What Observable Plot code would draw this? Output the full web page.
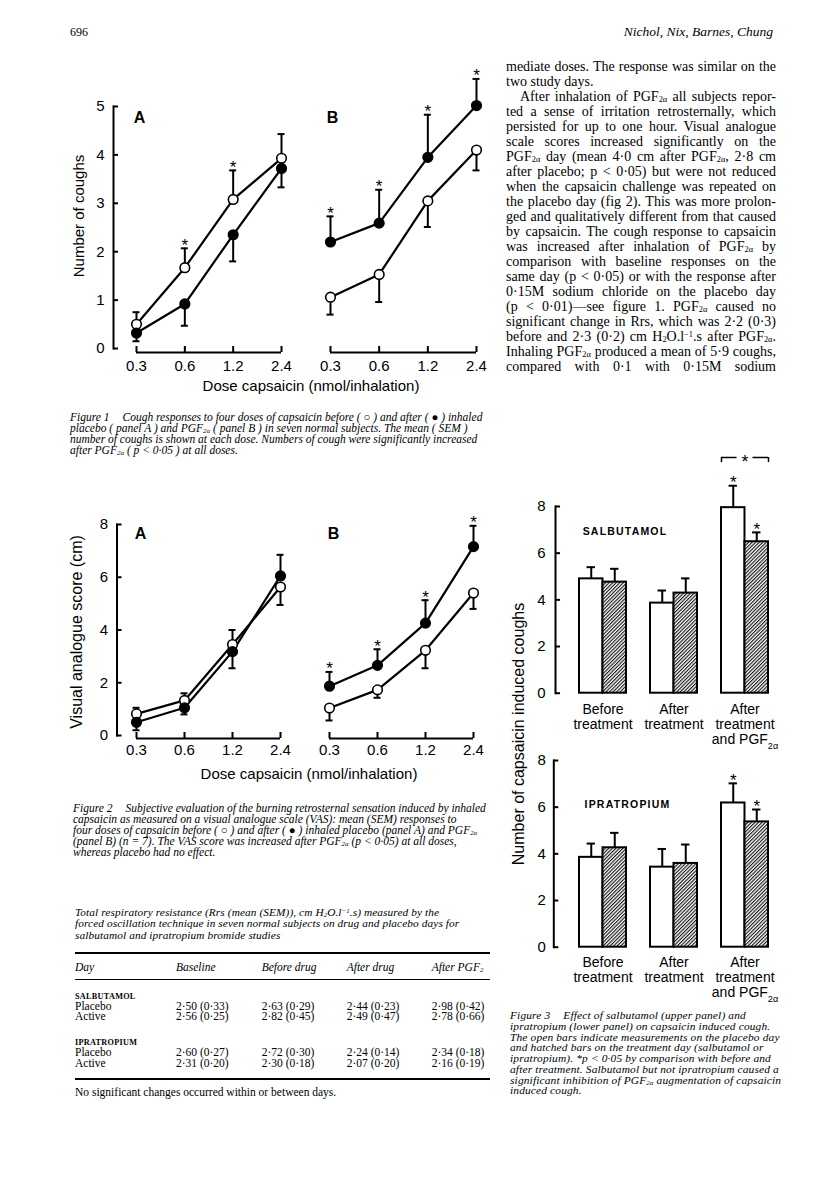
<!DOCTYPE html>
<html>
<head>
<meta charset="utf-8">
<script src="https://cdn.jsdelivr.net/npm/d3@7"></script>
<script src="https://cdn.jsdelivr.net/npm/@observablehq/plot@0.6"></script>
<style>
  html, body { margin: 0; padding: 0; background: #fff; }
  #page { position: relative; width: 816px; height: 1179px; overflow: hidden; background: #fff; color: #000; }
  .serif { font-family: "Liberation Serif", "Times New Roman", serif; }
  .sans { font-family: "Liberation Sans", Arial, sans-serif; }
  .ln { position: absolute; white-space: nowrap; }
  sub { font-size: 60%; vertical-align: -0.15em; line-height: 0; }
  sup { font-size: 60%; vertical-align: 0.45em; line-height: 0; }
  .fl { margin-right: 13px; }
  .rule { position: absolute; background: #000; }
  .sc { font-size: 8.2px; font-weight: bold; letter-spacing: 0.3px; }
</style>
</head>
<body>
<div id="page"></div>
<script>
// ================= DATA =================
const doses = [0.3, 0.6, 1.2, 2.4];

// Figure 1: number of coughs (open = before, filled = after)
const fig1Ticks = [0, 1, 2, 3, 4, 5];
const fig1A_open = [0.50, 1.67, 3.08, 3.93];
const fig1A_openErr = [0.75, 2.07, 3.68, 4.43];
const fig1A_filled = [0.32, 0.92, 2.35, 3.72];
const fig1A_filledErr = [0.15, 0.47, 1.80, 3.33];
const fig1A_openStars = [0.6, 1.2];
const fig1B_open = [1.06, 1.53, 3.05, 4.10];
const fig1B_openErr = [0.70, 0.96, 2.51, 3.68];
const fig1B_filled = [2.20, 2.59, 3.95, 5.02];
const fig1B_filledErr = [2.73, 3.28, 4.83, 5.57];
const fig1B_filledStars = [0.3, 0.6, 1.2, 2.4];

// Figure 2: visual analogue score (cm)
const fig2Ticks = [0, 2, 4, 6, 8];
const fig2A_open = [0.82, 1.33, 3.45, 5.63];
const fig2A_openErr = [1.05, 1.60, 4.00, 4.95];
const fig2A_filled = [0.50, 1.05, 3.18, 6.05];
const fig2A_filledErr = [0.20, 0.80, 2.55, 6.85];
const fig2B_open = [1.04, 1.73, 3.23, 5.40];
const fig2B_openErr = [0.57, 1.43, 2.55, 4.80];
const fig2B_filled = [1.87, 2.66, 4.26, 7.16];
const fig2B_filledErr = [2.41, 3.27, 5.13, 7.95];
const fig2B_filledStars = [0.3, 0.6, 1.2, 2.4];

// Figure 3: capsaicin induced coughs (open = placebo day, hatched = treatment day)
const fig3Groups = ["Before\ntreatment", "After\ntreatment", "After\ntreatment\nand PGF2α"];
const fig3Ticks = [0, 2, 4, 6, 8];
const salb_placebo = [4.90, 3.86, 7.95];
const salb_placeboErr = [5.40, 4.40, 8.89];
const salb_active = [4.76, 4.29, 6.49];
const salb_activeErr = [5.33, 4.92, 6.89];
const ipra_placebo = [3.85, 3.43, 6.18];
const ipra_placeboErr = [4.44, 4.21, 7.02];
const ipra_active = [4.26, 3.59, 5.37];
const ipra_activeErr = [4.90, 4.40, 5.90];
const fig3StarGroups = [fig3Groups[2]];
const salbBracket = {group: fig3Groups[2], y: 10.1, yEnd: 9.88};

// Table
const tableCols = ["Day", "Baseline", "Before drug", "After drug", "After PGF<sub>2</sub>"];
const tableSections = ["SALBUTAMOL", "IPRATROPIUM"];
const tableDays = ["Placebo", "Active"];
const salbRows = [["2·50 (0·33)", "2·63 (0·29)", "2·44 (0·23)", "2·98 (0·42)"],
                  ["2·56 (0·25)", "2·82 (0·45)", "2·49 (0·47)", "2·78 (0·66)"]];
const ipraRows = [["2·60 (0·27)", "2·72 (0·30)", "2·24 (0·14)", "2·34 (0·18)"],
                  ["2·31 (0·20)", "2·30 (0·18)", "2·07 (0·20)", "2·16 (0·19)"]];

// ================= HELPERS =================
const page = document.getElementById("page");
const SVGNS = "http://www.w3.org/2000/svg";
const plotStyle = {fontFamily: "'Liberation Sans', Arial, sans-serif", fontSize: "15px", background: "transparent", overflow: "visible", color: "black"};

function place(el, left, top) {
  el.style.position = "absolute";
  el.style.left = left + "px";
  el.style.top = top + "px";
  page.appendChild(el);
  return el;
}

function textLine(html, left, cy, o = {}) {
  const size = o.size || 14, lh = o.lh || 15;
  const d = document.createElement("div");
  d.className = "ln " + (o.sans ? "sans" : "serif");
  d.innerHTML = html;
  d.style.left = left + "px";
  d.style.top = (cy - lh / 2) + "px";
  d.style.fontSize = size + "px";
  d.style.lineHeight = lh + "px";
  if (o.italic) d.style.fontStyle = "italic";
  if (o.bold) d.style.fontWeight = "bold";
  if (o.ls) d.style.letterSpacing = o.ls + "px";
  page.appendChild(d);
  if (o.justify) {
    const w = d.getBoundingClientRect().width;
    const n = (d.textContent.match(/ /g) || []).length;
    if (n) d.style.wordSpacing = ((o.justify - w) / n) + "px";
  }
  return d;
}

function rotLabel(text, cx, cy, size) {
  const d = document.createElement("div");
  d.className = "ln sans";
  d.textContent = text;
  d.style.fontSize = size + "px";
  d.style.left = cx + "px";
  d.style.top = cy + "px";
  d.style.transform = "translate(-50%, -50%) rotate(-90deg)";
  page.appendChild(d);
}

function centerLabel(text, cx, cy, size) {
  const d = document.createElement("div");
  d.className = "ln sans";
  d.textContent = text;
  d.style.fontSize = size + "px";
  d.style.left = cx + "px";
  d.style.top = cy + "px";
  d.style.transform = "translate(-50%, -50%)";
  page.appendChild(d);
}

function fixSvgText(svg) {
  svg.querySelectorAll("tspan, text").forEach(t => {
    if (t.childElementCount === 0 && t.textContent.includes("PGF2α")) {
      t.textContent = t.textContent.replace("PGF2α", "PGF");
      const s = document.createElementNS(SVGNS, "tspan");
      s.setAttribute("baseline-shift", "sub");
      s.setAttribute("font-size", "65%");
      s.textContent = "2α";
      t.appendChild(s);
    }
    if (t.textContent === "SALBUTAMOL" || t.textContent === "IPRATROPIUM") {
      t.style.letterSpacing = "1.2px";
    }
  });
}

// ---------- line panels (figures 1 & 2) ----------
function linePanel(c) {
  const rows = [];
  doses.forEach((d, i) => {
    rows.push({dose: d, series: "before", value: c.open[i], err: c.openErr[i]});
    rows.push({dose: d, series: "after", value: c.filled[i], err: c.filledErr[i]});
  });
  const starsOpen = c.starsOpen || [], starsFilled = c.starsFilled || [];
  const stars = rows.filter(r => (r.series === "before" && starsOpen.includes(r.dose)) ||
                                 (r.series === "after" && starsFilled.includes(r.dose)));
  const mRight = 8;
  const mTop = c.yTop - c.top;
  const mBottom = c.height - (c.y0 - c.top);
  const frameW = c.width - c.marginLeft - mRight;
  const frameH = (c.y0 - c.top) - mTop;
  const marks = [
    Plot.ruleY([0], {x1: doses[0], x2: doses[doses.length - 1], dy: c.axisGap, stroke: "black", strokeWidth: 2}),
    Plot.tickX(doses, {x: d => d, insetTop: frameH - 6, dy: c.axisGap, stroke: "black", strokeWidth: 2}),
    Plot.axisX({ticks: doses, tickSize: 0, tickPadding: c.labelPad, tickFormat: d => String(d), fontSize: 15, label: null}),
    Plot.line(rows, {x: "dose", y: "value", z: "series", stroke: "black", strokeWidth: 2.2}),
    Plot.ruleX(rows, {x: "dose", y1: "value", y2: "err", stroke: "black", strokeWidth: 2}),
    Plot.ruleY(rows, {y: "err", x1: "dose", x2: "dose", insetLeft: -3.5, insetRight: -3.5, stroke: "black", strokeWidth: 2}),
    Plot.dot(rows, {x: "dose", y: "value", r: 4.8, fill: d => d.series === "after" ? "black" : "white", stroke: "black", strokeWidth: 1.6}),
    Plot.text(stars, {x: "dose", y: "err", text: () => "*", fontSize: 17, dy: -3}),
    Plot.text([c.letter], {frameAnchor: "top-left", textAnchor: "middle", lineAnchor: "middle", dx: c.letterDx, dy: c.letterDy, fontSize: 16, fontWeight: "bold"})
  ];
  if (c.showY) {
    marks.push(
      Plot.frame({anchor: "left", stroke: "black", strokeWidth: 2}),
      Plot.tickY(c.ticks, {y: d => d, insetRight: frameW - 5, stroke: "black", strokeWidth: 2}),
      Plot.axisY({ticks: c.ticks, tickSize: 0, tickPadding: 9, tickFormat: d => String(d), fontSize: 15, label: null})
    );
  }
  const svg = Plot.plot({
    width: c.width, height: c.height,
    marginLeft: c.marginLeft, marginRight: mRight, marginTop: mTop, marginBottom: mBottom,
    x: {type: "log", domain: [doses[0], doses[doses.length - 1]], range: [c.x0 - c.left, c.x1 - c.left]},
    y: c.showY ? {domain: [0, c.yMax], range: [c.y0 - c.top, c.yTop - c.top]}
               : {domain: [0, c.yMax], range: [c.y0 - c.top, c.yTop - c.top], axis: null},
    style: plotStyle,
    marks
  });
  place(svg, c.left, c.top);
}

// ---------- bar panels (figure 3) ----------
function barPanel(c) {
  const pIn = 0.345;
  const b = d3.scaleBand().domain(fig3Groups).range([c.x0, c.x1]).paddingInner(pIn).paddingOuter(0).bandwidth();
  const openRows = fig3Groups.map((g, i) => ({group: g, value: c.placebo[i], err: c.placeboErr[i]}));
  const hatchRows = fig3Groups.map((g, i) => ({group: g, value: c.active[i], err: c.activeErr[i]}));
  const mTop = c.yTop - c.top;
  const mBottom = c.height - (c.y0 - c.top);
  const mRight = 20;
  const frameW = c.width - c.marginLeft - mRight;
  const pid = c.pid;
  const capW = 4.2;
  const marks = [
    () => {
      const defs = document.createElementNS(SVGNS, "defs");
      defs.innerHTML = `<pattern id="${pid}" patternUnits="userSpaceOnUse" width="2.5" height="2.5" patternTransform="rotate(45)">
        <rect width="2.5" height="2.5" fill="white"></rect>
        <line x1="0.6" y1="0" x2="0.6" y2="2.5" stroke="black" stroke-width="1.05"></line></pattern>`;
      return defs;
    },
    Plot.barY(openRows, {x: "group", y: "value", fill: "white", stroke: "black", strokeWidth: 2, insetRight: b / 2}),
    Plot.barY(hatchRows, {x: "group", y: "value", fill: `url(#${pid})`, stroke: "black", strokeWidth: 2, insetLeft: b / 2}),
    Plot.ruleX(openRows, {x: "group", y1: "value", y2: "err", dx: -b / 4, stroke: "black", strokeWidth: 2}),
    Plot.ruleX(hatchRows, {x: "group", y1: "value", y2: "err", dx: b / 4, stroke: "black", strokeWidth: 2}),
    Plot.tickY(openRows, {x: "group", y: "err", insetLeft: b / 4 - capW, insetRight: 3 * b / 4 - capW, stroke: "black", strokeWidth: 2}),
    Plot.tickY(hatchRows, {x: "group", y: "err", insetLeft: 3 * b / 4 - capW, insetRight: b / 4 - capW, stroke: "black", strokeWidth: 2}),
    Plot.text(openRows.filter(r => fig3StarGroups.includes(r.group)), {x: "group", y: "err", dx: -b / 4, text: () => "*", fontSize: 17, dy: -3}),
    Plot.text(hatchRows.filter(r => fig3StarGroups.includes(r.group)), {x: "group", y: "err", dx: b / 4, text: () => "*", fontSize: 17, dy: -3}),
    Plot.frame({anchor: "left", stroke: "black", strokeWidth: 2}),
    Plot.tickY(fig3Ticks, {y: d => d, insetRight: frameW - 5, stroke: "black", strokeWidth: 2}),
    Plot.axisY({ticks: fig3Ticks, tickSize: 0, tickPadding: c.yPad, tickFormat: d => String(d), fontSize: 15, label: null}),
    Plot.axisX({tickSize: 0, tickPadding: c.labelPad, fontSize: 14, lineHeight: 1.07, tickFormat: d => d, label: null}),
    Plot.text([c.name], {frameAnchor: "top-left", textAnchor: "middle", lineAnchor: "middle", dx: c.nameDx, dy: c.nameDy, fontSize: 10.5, fontWeight: "bold"})
  ];
  if (c.bracket) {
    const br = [c.bracket];
    marks.push(
      Plot.tickY(br, {x: "group", y: "y", insetRight: b / 2 + 8, stroke: "black", strokeWidth: 1.5}),
      Plot.tickY(br, {x: "group", y: "y", insetLeft: b / 2 + 8, stroke: "black", strokeWidth: 1.5}),
      Plot.ruleX(br, {x: "group", y1: "y", y2: "yEnd", dx: -b / 2, stroke: "black", strokeWidth: 1.5}),
      Plot.ruleX(br, {x: "group", y1: "y", y2: "yEnd", dx: b / 2, stroke: "black", strokeWidth: 1.5}),
      Plot.text(br, {x: "group", y: "y", text: () => "*", fontSize: 18, dy: 4.5})
    );
  }
  const svg = Plot.plot({
    width: c.width, height: c.height,
    marginLeft: c.marginLeft, marginRight: mRight, marginTop: mTop, marginBottom: mBottom,
    x: {type: "band", domain: fig3Groups, range: [c.x0 - c.left, c.x1 - c.left], paddingInner: pIn, paddingOuter: 0},
    y: {domain: [0, 8], range: [c.y0 - c.top, c.yTop - c.top]},
    style: plotStyle,
    marks
  });
  fixSvgText(svg);
  place(svg, c.left, c.top);
}

// ================= PAGE HEADER & BODY TEXT =================
textLine("696", 70, 32, {size: 12, lh: 14});
const hdr = document.createElement("div");
hdr.className = "ln serif";
hdr.style.cssText = "right:43px;top:24px;font-size:13.5px;line-height:16px;font-style:italic;";
hdr.textContent = "Nichol, Nix, Barnes, Chung";
page.appendChild(hdr);

const bodyLines = [
  ["mediate doses. The response was similar on the", true, 0],
  ["two study days.", false, 0],
  ["After inhalation of PGF<sub>2α</sub> all subjects repor-", true, 14],
  ["ted a sense of irritation retrosternally, which", true, 0],
  ["persisted for up to one hour. Visual analogue", true, 0],
  ["scale scores increased significantly on the", true, 0],
  ["PGF<sub>2α</sub> day (mean 4·0 cm after PGF<sub>2α</sub>, 2·8 cm", true, 0],
  ["after placebo; p &lt; 0·05) but were not reduced", true, 0],
  ["when the capsaicin challenge was repeated on", true, 0],
  ["the placebo day (fig 2). This was more prolon-", true, 0],
  ["ged and qualitatively different from that caused", true, 0],
  ["by capsaicin. The cough response to capsaicin", true, 0],
  ["was increased after inhalation of PGF<sub>2α</sub> by", true, 0],
  ["comparison with baseline responses on the", true, 0],
  ["same day (p &lt; 0·05) or with the response after", true, 0],
  ["0·15M sodium chloride on the placebo day", true, 0],
  ["(p &lt; 0·01)—see figure 1. PGF<sub>2α</sub> caused no", true, 0],
  ["significant change in Rrs, which was 2·2 (0·3)", true, 0],
  ["before and 2·3 (0·2) cm H<sub>2</sub>O.l<sup>−1</sup>.s after PGF<sub>2α</sub>.", true, 0],
  ["Inhaling PGF<sub>2α</sub> produced a mean of 5·9 coughs,", true, 0],
  ["compared with 0·1 with 0·15M sodium", true, 0]
];
bodyLines.forEach(([html, just, indent], i) => {
  textLine(html, 506 + indent, 66.7 + 15 * i, {size: 14, lh: 13, justify: just ? 270 - indent : 0});
});

// ================= FIGURE 1 =================
linePanel({left: 55, top: 90, width: 240, height: 320, marginLeft: 58, y0: 348, yTop: 106, yMax: 5,
  x0: 136, x1: 281, showY: true, ticks: fig1Ticks, axisGap: 4, labelPad: 11.5,
  open: fig1A_open, openErr: fig1A_openErr, filled: fig1A_filled, filledErr: fig1A_filledErr,
  starsOpen: fig1A_openStars, letter: "A", letterDx: 26, letterDy: 11});
linePanel({left: 300, top: 90, width: 200, height: 320, marginLeft: 20, y0: 348, yTop: 106, yMax: 5,
  x0: 330, x1: 476, showY: false, ticks: fig1Ticks, axisGap: 4, labelPad: 11.5,
  open: fig1B_open, openErr: fig1B_openErr, filled: fig1B_filled, filledErr: fig1B_filledErr,
  starsFilled: fig1B_filledStars, letter: "B", letterDx: 12, letterDy: 11});
rotLabel("Number of coughs", 78.3, 216, 15);
centerLabel("Dose capsaicin (nmol/inhalation)", 311, 385, 15);

const fig1Caption = [
  '<span class="fl">Figure 1</span>Cough responses to four doses of capsaicin before ( ○ ) and after ( ● ) inhaled',
  'placebo ( panel A ) and PGF<sub>2α</sub> ( panel B ) in seven normal subjects. The mean ( SEM )',
  'number of coughs is shown at each dose. Numbers of cough were significantly increased',
  'after PGF<sub>2α</sub> ( p &lt; 0·05 ) at all doses.'
];
fig1Caption.forEach((h, i) => textLine(h, 70, 417 + 11 * i, {size: 11.5, lh: 8, italic: true}));

// ================= FIGURE 2 =================
linePanel({left: 55, top: 500, width: 240, height: 290, marginLeft: 61.5, y0: 735, yTop: 524, yMax: 8,
  x0: 136, x1: 280, showY: true, ticks: fig2Ticks, axisGap: 3, labelPad: 9,
  open: fig2A_open, openErr: fig2A_openErr, filled: fig2A_filled, filledErr: fig2A_filledErr,
  letter: "A", letterDx: 23.5, letterDy: 9});
linePanel({left: 300, top: 500, width: 200, height: 290, marginLeft: 20, y0: 735, yTop: 524, yMax: 8,
  x0: 329, x1: 473, showY: false, ticks: fig2Ticks, axisGap: 3, labelPad: 9,
  open: fig2B_open, openErr: fig2B_openErr, filled: fig2B_filled, filledErr: fig2B_filledErr,
  starsFilled: fig2B_filledStars, letter: "B", letterDx: 13, letterDy: 9});
rotLabel("Visual analogue score (cm)", 76.7, 631.7, 16);
centerLabel("Dose capsaicin (nmol/inhalation)", 309, 772.7, 15);

const fig2Caption = [
  '<span class="fl">Figure 2</span>Subjective evaluation of the burning retrosternal sensation induced by inhaled',
  'capsaicin as measured on a visual analogue scale (VAS): mean (SEM) responses to',
  'four doses of capsaicin before ( ○ ) and after ( ● ) inhaled placebo (panel A) and PGF<sub>2α</sub>',
  '(panel B) (n = 7). The VAS score was increased after PGF<sub>2α</sub> (p &lt; 0·05) at all doses,',
  'whereas placebo had no effect.'
];
fig2Caption.forEach((h, i) => textLine(h, 73, 807.5 + 11.2 * i, {size: 11.5, lh: 8, italic: true}));

// ================= TABLE =================
const tableTitle = [
  'Total respiratory resistance (Rrs (mean (SEM)), cm H<sub>2</sub>O.l<sup>−1</sup>.s) measured by the',
  'forced oscillation technique in seven normal subjects on drug and placebo days for',
  'salbutamol and ipratropium bromide studies'
];
tableTitle.forEach((h, i) => textLine(h, 75, 912 + 11.3 * i, {size: 11.3, lh: 8, italic: true, ls: 0.1}));
function rule(x, y, w, h) {
  const d = document.createElement("div");
  d.className = "rule";
  d.style.left = x + "px"; d.style.top = (y - h / 2) + "px";
  d.style.width = w + "px"; d.style.height = h + "px";
  page.appendChild(d);
}
const colX = [75, 176, 261.7, 346.7, 431.7];
rule(75, 952.7, 415, 2);
tableCols.forEach((h, i) => textLine(h, colX[i], 967, {size: 11.5, lh: 10, italic: true}));
rule(75, 979, 415, 1);
[[tableSections[0], salbRows, 995], [tableSections[1], ipraRows, 1041.7]].forEach(([sec, rows, y]) => {
  textLine(`<span class="sc">${sec}</span>`, 75, y, {size: 11.5, lh: 9});
  rows.forEach((r, i) => {
    const yy = y + 11 + 10.5 * i;
    textLine(tableDays[i], colX[0], yy, {size: 11.5, lh: 9});
    r.forEach((v, j) => textLine(v, colX[j + 1], yy, {size: 11.5, lh: 9}));
  });
});
rule(75, 1079.3, 415, 2);
textLine("No significant changes occurred within or between days.", 75, 1092, {size: 11.5, lh: 10});

// ================= FIGURE 3 =================
barPanel({left: 500, top: 440, width: 300, height: 300, marginLeft: 55, y0: 692.7, yTop: 506,
  x0: 577.7, x1: 768.3, yPad: 10, labelPad: 10.3,
  placebo: salb_placebo, placeboErr: salb_placeboErr, active: salb_active, activeErr: salb_activeErr,
  name: "SALBUTAMOL", nameDx: 69.5, nameDy: 25, pid: "hatchU", bracket: salbBracket});
barPanel({left: 500, top: 730, width: 300, height: 280, marginLeft: 53.3, y0: 946.7, yTop: 760,
  x0: 577.7, x1: 768.3, yPad: 8, labelPad: 9,
  placebo: ipra_placebo, placeboErr: ipra_placeboErr, active: ipra_active, activeErr: ipra_activeErr,
  name: "IPRATROPIUM", nameDx: 73.7, nameDy: 44.3, pid: "hatchL"});
rotLabel("Number of capsaicin induced coughs", 519, 734, 16);

const fig3Caption = [
  '<span class="fl">Figure 3</span>Effect of salbutamol (upper panel) and',
  'ipratropium (lower panel) on capsaicin induced cough.',
  'The open bars indicate measurements on the placebo day',
  'and hatched bars on the treatment day (salbutamol or',
  'ipratropium). *p &lt; 0·05 by comparison with before and',
  'after treatment. Salbutamol but not ipratropium caused a',
  'significant inhibition of PGF<sub>2α</sub> augmentation of capsaicin',
  'induced cough.'
];
fig3Caption.forEach((h, i) => textLine(h, 510, 1015 + 10.75 * i, {size: 11.4, lh: 8, italic: true, ls: 0.15}));
</script>
</body>
</html>
